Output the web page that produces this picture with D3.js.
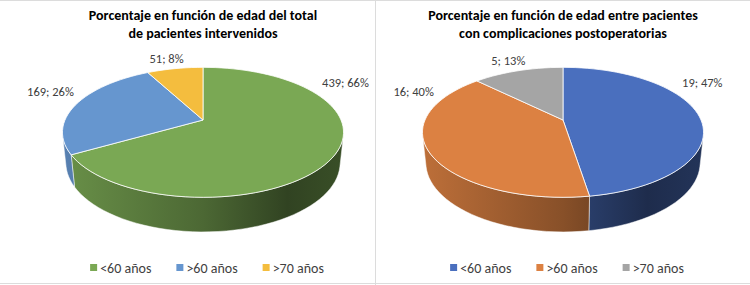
<!DOCTYPE html>
<html><head><meta charset="utf-8">
<script src="https://cdn.jsdelivr.net/npm/d3@7"></script>
<style>body{margin:0;background:#fff}svg{display:block}</style>
</head><body>
<svg id="chart" width="750" height="285"></svg>
<script>
// ---- data ----
const categories = ["<60 años", ">60 años", ">70 años"];
const valuesTotal = [439, 169, 51];
const pctTotal = ["66%", "26%", "8%"];
const valuesComp = [19, 16, 5];
const pctComp = ["47%", "40%", "13%"];
const titleTotal = ["Porcentaje en función de edad del total", "de pacientes intervenidos"];
const titleComp = ["Porcentaje en función de edad entre pacientes", "con complicaciones postoperatorias"];

// ---- styles ----
const colorsTotal = ["#7aa854", "#6696cf", "#f4bd3e"];
const colorsComp = ["#4a6fbe", "#dc8142", "#a5a5a5"];
const FONT = "Carlito, Calibri, Lato, sans-serif";
const TEXT = "#404040";

const svg = d3.select("#chart");
const defs = svg.append("defs");

// frame
svg.append("line").attr("x1",0).attr("x2",750).attr("y1",0.5).attr("y2",0.5).attr("stroke","#dcdcdc");
svg.append("line").attr("x1",0).attr("x2",750).attr("y1",283.5).attr("y2",283.5).attr("stroke","#dcdcdc");
svg.append("line").attr("x1",375.5).attr("x2",375.5).attr("y1",0).attr("y2",285).attr("stroke","#dcdcdc");

// perspective parameters
const K = 138, DIST = 4.7, PHI = 27 * Math.PI / 180, H = 0.25;
const visLim = Math.acos(-1 / (DIST * Math.cos(PHI)));
const vis0 = visLim, vis1 = 2 * Math.PI - visLim;

function drawPie(cx, cy, values, pcts, colors, titles, gid) {
  const g = svg.append("g");
  const proj = (th, r, y) => {
    const X = r * Math.sin(th), Z = -r * Math.cos(th), Y = y;
    const up = Y * Math.cos(PHI) - Z * Math.sin(PHI);
    const dep = Y * Math.sin(PHI) + Z * Math.cos(PHI);
    const s = DIST / (DIST - dep);
    return [cx + K * X * s, cy - K * up * s];
  };
  const arcs = d3.pie().sort(null).value(d => d)(values);
  const N = 120;
  const sample = (a0, a1, r, y) => {
    const n = Math.max(2, Math.ceil(N * (a1 - a0) / (2 * Math.PI)));
    return d3.range(n + 1).map(i => proj(a0 + (a1 - a0) * i / n, r, y));
  };
  const line = d3.line();

  // side walls
  arcs.forEach((a, i) => {
    const s0 = Math.max(a.startAngle, vis0), s1 = Math.min(a.endAngle, vis1);
    if (s1 <= s0) return;
    const base = d3.rgb(colors[i]);
    const id = gid + "w" + i;
    const grad = defs.append("linearGradient").attr("id", id)
      .attr("gradientUnits", "userSpaceOnUse")
      .attr("x1", cx - K * 1.02).attr("x2", cx + K * 1.02).attr("y1", 0).attr("y2", 0);
    [[0, 0.86], [0.5, 0.62], [0.8, 0.4], [1, 0.47]].forEach(([o, f]) => {
      grad.append("stop").attr("offset", o)
        .attr("stop-color", d3.rgb(base.r * f, base.g * f, base.b * f).formatHex());
    });
    const pts = sample(s0, s1, 1, 0).concat(sample(s0, s1, 1, -H).reverse());
    g.append("path").attr("d", line(pts) + "Z").attr("fill", `url(#${id})`)
      .attr("stroke", "#ffffff").attr("stroke-opacity", 0.7).attr("stroke-width", 0.7);
  });
  // top faces
  arcs.forEach((a, i) => {
    const pts = [proj(0, 0, 0)].concat(sample(a.startAngle, a.endAngle, 1, 0));
    g.append("path").attr("d", line(pts) + "Z").attr("fill", colors[i])
      .attr("stroke", "#ffffff").attr("stroke-width", 0.8).attr("stroke-linejoin", "round");
  });
  // labels (outside, pushed towards the back half)
  arcs.forEach((a, i) => {
    let th = (a.startAngle + a.endAngle) / 2;
    if (Math.cos(th) < 0) th = Math.PI - th;
    th = ((th % (2 * Math.PI)) + 2 * Math.PI) % (2 * Math.PI);
    if (th > Math.PI / 3 && th <= Math.PI) th = Math.PI / 3;
    if (th > Math.PI && th < 5 * Math.PI / 3) th = 29 * Math.PI / 18;
    const p = proj(th, 1.1, 0);
    const sn = Math.sin(th);
    const anchor = sn > 0.5 ? "start" : sn < -0.5 ? "end" : "middle";
    const dx = anchor === "end" ? 4 : anchor === "middle" ? -6 : 0;
    g.append("text").attr("x", p[0] + dx).attr("y", p[1] - 6).attr("dy", "0.35em")
      .attr("text-anchor", anchor).attr("font-family", FONT).attr("font-size", 12.5)
      .attr("fill", TEXT).text(values[i] + "; " + pcts[i]);
  });
  // title
  titles.forEach((t, j) => {
    g.append("text").attr("x", cx).attr("y", 20 + j * 18).attr("text-anchor", "middle")
      .attr("font-family", FONT).attr("font-weight", "bold").attr("font-size", 14)
      .attr("fill", "#000").text(t);
  });
  // legend
  const lg = g.append("g");
  let x = 0;
  categories.forEach((c, i) => {
    const it = lg.append("g").attr("transform", `translate(${x},0)`);
    it.append("rect").attr("x", 0).attr("y", -4).attr("width", 7).attr("height", 7).attr("fill", colors[i]);
    const t = it.append("text").attr("x", 10).attr("y", 0).attr("dy", "0.35em")
      .attr("font-family", FONT).attr("font-size", 14).attr("fill", TEXT).text(c);
    x += 10 + t.node().getComputedTextLength() + 25;
  });
  const w = x - 25;
  lg.attr("transform", `translate(${cx + 4 - w / 2},268)`);
}

drawPie(203, 120, valuesTotal, pctTotal, colorsTotal, titleTotal, "a");
drawPie(563, 120, valuesComp, pctComp, colorsComp, titleComp, "b");
</script>
</body></html>
